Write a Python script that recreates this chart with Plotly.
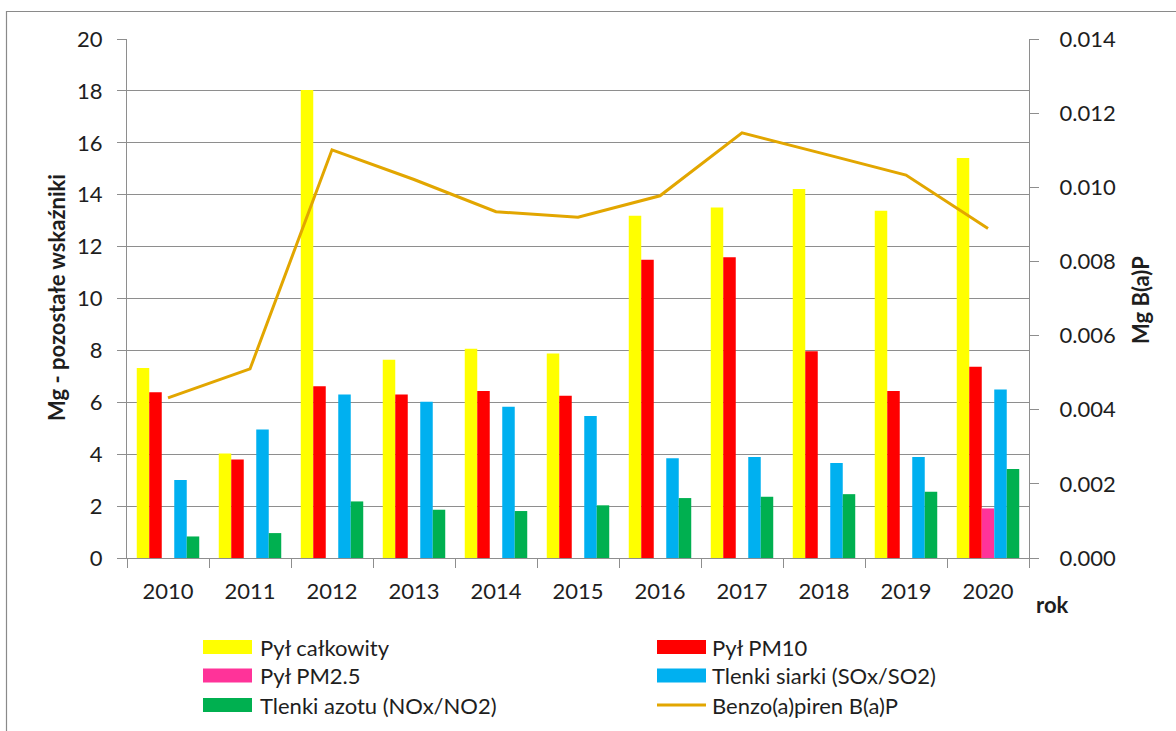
import plotly.graph_objects as go

years = ["2010", "2011", "2012", "2013", "2014", "2015", "2016", "2017", "2018", "2019", "2020"]

pyl_calkowity = [7.32, 4.03, 18.03, 7.64, 8.06, 7.88, 13.19, 13.51, 14.22, 13.38, 15.41]
pyl_pm10 = [6.39, 3.80, 6.62, 6.30, 6.44, 6.25, 11.49, 11.59, 7.97, 6.44, 7.37]
pyl_pm25 = [None, None, None, None, None, None, None, None, None, None, 1.91]
tlenki_siarki = [3.01, 4.95, 6.30, 6.02, 5.83, 5.47, 3.84, 3.89, 3.66, 3.89, 6.49]
tlenki_azotu = [0.83, 0.96, 2.18, 1.86, 1.81, 2.03, 2.31, 2.36, 2.46, 2.55, 3.43]
benzo_a_piren = [0.00432, 0.00510, 0.01101, 0.01021, 0.00934, 0.00919, 0.00977, 0.01147, 0.01090, 0.01033, 0.00889]

left_ticks = [0, 2, 4, 6, 8, 10, 12, 14, 16, 18, 20]
right_ticks = [0.000, 0.002, 0.004, 0.006, 0.008, 0.010, 0.012, 0.014]

bar_series = [
    ("Pył całkowity", pyl_calkowity, "#FFFF00"),
    ("Pył PM10", pyl_pm10, "#FF0000"),
    ("Pył PM2.5", pyl_pm25, "#FF3399"),
    ("Tlenki siarki (SOx/SO2)", tlenki_siarki, "#00B0F0"),
    ("Tlenki azotu (NOx/NO2)", tlenki_azotu, "#00B050"),
]
line_name = "Benzo(a)piren B(a)P"
line_color = "#E2A600"

FONT = "Lato"
TEXT_COLOR = "#1E1E1E"
GRID = "#8E8E8E"
TICK_SIZE = 22
TITLE_SIZE = 22

W, H = 1176, 731
L, R, T, B = 127, 147, 39, 173
PW, PH = W - L - R, H - T - B


def px(x):
    return (x - L) / PW


def py(y):
    return (H - B - y) / PH


fig = go.Figure()

for name, vals, color in bar_series:
    fig.add_trace(go.Bar(
        x=years, y=vals, name=name, marker_color=color,
        marker_line_width=0, showlegend=False,
    ))

fig.add_trace(go.Scatter(
    x=years, y=benzo_a_piren, name=line_name, yaxis="y2", mode="lines",
    line=dict(color=line_color, width=3), showlegend=False,
))

fig.update_layout(
    width=W, height=H,
    margin=dict(l=L, r=R, t=T, b=B, pad=0),
    paper_bgcolor="white", plot_bgcolor="white",
    barmode="group", bargap=0.238, bargroupgap=0,
    font=dict(family=FONT, size=TICK_SIZE, color=TEXT_COLOR),
    xaxis=dict(
        type="category", range=[-0.5, 10.5],
        showgrid=False, showline=True, linecolor=GRID, linewidth=1.2,
        ticks="outside", tickson="boundaries", ticklen=9, tickcolor=GRID, tickwidth=1.2,
        ticklabelstandoff=13, tickfont=dict(size=TICK_SIZE),
    ),
    yaxis=dict(
        range=[0, 20], tickvals=left_ticks,
        showgrid=True, gridcolor=GRID, gridwidth=1.2,
        showline=True, linecolor=GRID, linewidth=1.2,
        ticks="outside", ticklen=9, tickcolor=GRID, tickwidth=1.2,
        ticklabelstandoff=10, tickfont=dict(size=TICK_SIZE), zeroline=False,
    ),
    yaxis2=dict(
        range=[0, 0.014], tickvals=right_ticks, tickformat=".3f",
        overlaying="y", side="right", showgrid=False, zeroline=False,
        showline=True, linecolor=GRID, linewidth=1.2,
        ticks="outside", ticklen=9, tickcolor=GRID, tickwidth=1.2,
        ticklabelstandoff=16, tickfont=dict(size=TICK_SIZE),
    ),
)

annotations = [
    dict(text="<b>Mg - pozostałe wskaźniki</b>", x=px(56), y=py(298), textangle=-90,
         font=dict(size=TITLE_SIZE)),
    dict(text="<b>Mg B(a)P</b>", x=px(1140), y=py(300), textangle=-90,
         font=dict(size=TITLE_SIZE)),
    dict(text="<b>rok</b>", x=px(1052), y=py(604), font=dict(size=TITLE_SIZE)),
]

shapes = [
    # outer chart frame
    dict(type="rect", xref="paper", yref="paper",
         x0=px(6.5), x1=px(1190), y0=py(11.5), y1=py(745),
         line=dict(color="#8A8A8A", width=1.2), layer="below"),
]

# legend: two columns, three rows
legend_items = [name for name, _, _ in bar_series] + [line_name]
legend_colors = [c for _, _, c in bar_series] + [line_color]
row_y = [647, 675.5, 705]
col_x = [(203, 252, 258), (657, 706, 710)]
for i, (name, color) in enumerate(zip(legend_items, legend_colors)):
    col = i % 2
    row = i // 2
    x0, x1, xt = col_x[col]
    yc = row_y[row]
    if name == line_name:
        shapes.append(dict(type="line", xref="paper", yref="paper",
                           x0=px(x0), x1=px(x1), y0=py(yc), y1=py(yc),
                           line=dict(color=color, width=3)))
    else:
        shapes.append(dict(type="rect", xref="paper", yref="paper",
                           x0=px(x0), x1=px(x1), y0=py(yc - 7), y1=py(yc + 7),
                           fillcolor=color, line=dict(width=0)))
    annotations.append(dict(text=name, x=px(xt), y=py(yc), xanchor="left",
                            font=dict(size=22)))

for a in annotations:
    a.setdefault("xref", "paper")
    a.setdefault("yref", "paper")
    a.setdefault("showarrow", False)
    a.setdefault("xanchor", "center")
    a.setdefault("yanchor", "middle")

fig.update_layout(annotations=annotations, shapes=shapes)

fig.write_html("out.html")
